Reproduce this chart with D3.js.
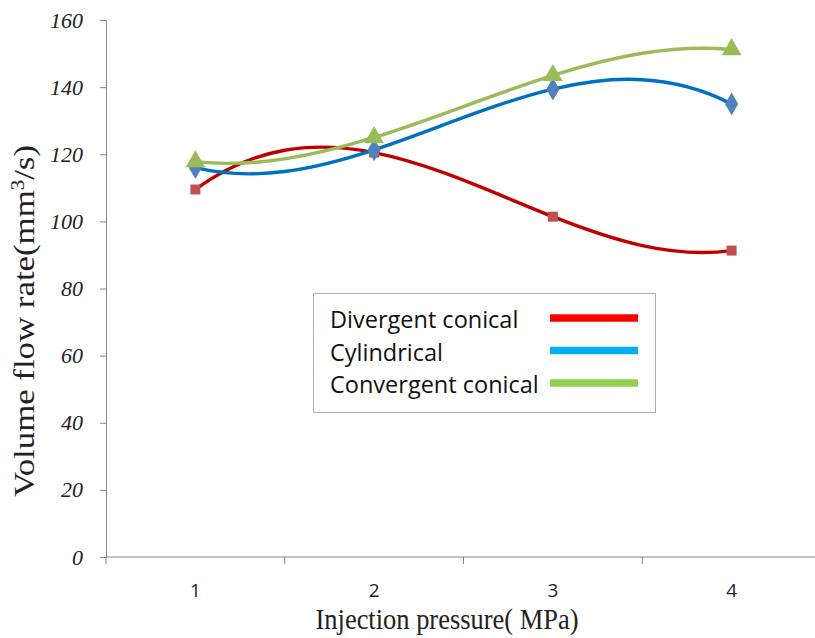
<!DOCTYPE html>
<html>
<head>
<meta charset="utf-8">
<script src="https://cdn.jsdelivr.net/npm/d3@7"></script>
<style>
  body { margin: 0; background: #fff; }
  svg { display: block; }
</style>
</head>
<body>
<div id="chart"></div>
<script>
const pressures = [1, 2, 3, 4];
const divergent = [109.5, 120.5, 101.4, 91.3];
const cylindrical = [116, 121.3, 139.4, 135];
const convergent = [117.8, 125, 143.5, 151.2];
const yTicks = [0, 20, 40, 60, 80, 100, 120, 140, 160];

const series = [
    { name: "Divergent conical", values: divergent, line: "#c00000", marker: "#c0504d", key: "#ff0000", symbol: d3.symbolSquare, size: 100 },
    { name: "Cylindrical", values: cylindrical, line: "#0070c0", marker: "#4f81bd", key: "#00b0f0", symbol: d3.symbolDiamond, size: 150 },
    { name: "Convergent conical", values: convergent, line: "#9bbb59", marker: "#9bbb59", key: "#92d050", symbol: d3.symbolTriangle, size: 170 }
];

// polynomial trendline through all points (order = n - 1), drawn as bezier pieces
function curvePoly(context) {
    let pts;
    return {
        areaStart() {}, areaEnd() {},
        lineStart() { pts = []; },
        point(px, py) { pts.push([+px, +py]); },
        lineEnd() {
            const n = pts.length;
            const xs = pts.map(p => p[0]), ys = pts.map(p => p[1]);
            const slope = xs.map((xi, i) => {
                let s = 0;
                for (let j = 0; j < n; j++) {
                    if (j === i) {
                        let t = 0;
                        for (let k = 0; k < n; k++) if (k !== i) t += 1 / (xi - xs[k]);
                        s += ys[i] * t;
                    } else {
                        let t = 1 / (xs[j] - xi);
                        for (let k = 0; k < n; k++) if (k !== i && k !== j) t *= (xi - xs[k]) / (xs[j] - xs[k]);
                        s += ys[j] * t;
                    }
                }
                return s;
            });
            context.moveTo(xs[0], ys[0]);
            for (let i = 0; i < n - 1; i++) {
                const h = (xs[i + 1] - xs[i]) / 3;
                context.bezierCurveTo(xs[i] + h, ys[i] + slope[i] * h,
                    xs[i + 1] - h, ys[i + 1] - slope[i + 1] * h,
                    xs[i + 1], ys[i + 1]);
            }
        }
    };
}

const width = 815, height = 638;
const svg = d3.select("#chart").append("svg")
    .attr("width", width)
    .attr("height", height);

const x = d3.scaleBand()
    .domain(pressures)
    .range([106, 821]);

const y = d3.scaleLinear()
    .domain([0, 160])
    .range([557, 20]);

const axisColor = "#868686";

// y axis
const yAxis = svg.append("g")
    .attr("transform", "translate(106,0)")
    .call(d3.axisLeft(y).tickValues(yTicks).tickSize(6).tickPadding(17));
yAxis.select(".domain").attr("stroke", axisColor);
yAxis.selectAll(".tick line").attr("stroke", axisColor);
yAxis.selectAll(".tick text")
    .attr("fill", "#222")
    .style("font-family", "'Liberation Serif', serif")
    .style("font-style", "italic")
    .style("font-size", "22px");

// x axis: ticks at band boundaries
svg.append("line")
    .attr("x1", 106).attr("x2", 821)
    .attr("y1", y(0)).attr("y2", y(0))
    .attr("stroke", axisColor);
svg.selectAll(".xtick")
    .data(pressures)
    .enter().append("line")
    .attr("class", "xtick")
    .attr("x1", d => x(d)).attr("x2", d => x(d))
    .attr("y1", y(0)).attr("y2", y(0) + 7)
    .attr("stroke", axisColor);
svg.selectAll(".xlabel")
    .data(pressures)
    .enter().append("text")
    .attr("class", "xlabel")
    .attr("x", d => x(d) + x.bandwidth() / 2)
    .attr("y", 597)
    .attr("text-anchor", "middle")
    .style("font-family", "'Open Sans', sans-serif")
    .style("font-size", "19px")
    .attr("fill", "#222")
    .text(d => d);

// axis titles (source picture is stretched vertically, so squeeze the glyphs)
svg.append("text")
    .attr("x", 447)
    .attr("y", 629)
    .attr("text-anchor", "middle")
    .attr("textLength", 263)
    .attr("lengthAdjust", "spacingAndGlyphs")
    .style("font-family", "'Liberation Serif', serif")
    .style("font-size", "29px")
    .attr("fill", "#222")
    .text("Injection pressure( MPa)");

const yTitle = svg.append("text")
    .attr("transform", "translate(34,321) rotate(-90)")
    .attr("text-anchor", "middle")
    .attr("textLength", 352)
    .attr("lengthAdjust", "spacingAndGlyphs")
    .style("font-family", "'Liberation Serif', serif")
    .style("font-size", "30px")
    .attr("fill", "#222");
yTitle.append("tspan").text("Volume flow rate(mm");
yTitle.append("tspan").attr("baseline-shift", "super").style("font-size", "18px").text("3");
yTitle.append("tspan").text("/s)");

// lines
const line = d3.line()
    .x((d, i) => x(pressures[i]) + x.bandwidth() / 2)
    .y(d => y(d))
    .curve(curvePoly);

series.forEach(s => {
    svg.append("path")
        .datum(s.values)
        .attr("fill", "none")
        .attr("stroke", s.line)
        .attr("stroke-width", 3.4)
        .attr("d", line);
});

series.forEach(s => {
    svg.selectAll(null)
        .data(s.values)
        .enter().append("path")
        .attr("transform", (d, i) => `translate(${x(pressures[i]) + x.bandwidth() / 2},${y(d)})`)
        .attr("d", d3.symbol().type(s.symbol).size(s.size))
        .attr("fill", s.marker);
});

// legend
const legend = svg.append("g").attr("transform", "translate(313,293)");
legend.append("rect")
    .attr("x", 0.5).attr("y", 0.5)
    .attr("width", 342).attr("height", 119)
    .attr("fill", "#fff")
    .attr("stroke", "#b0b0b0");

series.forEach((s, i) => {
    const cy = 27 + i * 32.5;
    legend.append("text")
        .attr("x", 17)
        .attr("y", cy + 8)
        .style("font-family", "'Open Sans', sans-serif")
        .style("font-size", "23.5px")
        .attr("fill", "#111")
        .text(s.name);
    legend.append("line")
        .attr("x1", 237).attr("x2", 325)
        .attr("y1", cy - 2).attr("y2", cy - 2)
        .attr("stroke", s.key)
        .attr("stroke-width", 7.5);
});
</script>
</body>
</html>
